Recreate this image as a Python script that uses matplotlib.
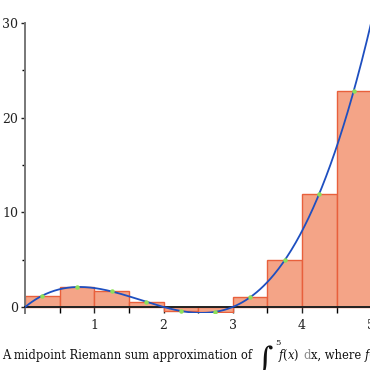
import matplotlib.pyplot as plt
import numpy as np

# midpoints of the 10 subintervals and the bar heights f(midpoint)
midpoints = [0.25, 0.75, 1.25, 1.75, 2.25, 2.75, 3.25, 3.75, 4.25, 4.75]
heights = [1.20, 2.11, 1.64, 0.55, -0.42, -0.52, 1.02, 4.92, 11.95, 22.86]
bar_width = 0.5
# f(x) = x (x - 2) (x - 3)
roots = [0, 2, 3]

x = np.linspace(0, 5, 400)
y = (x - roots[0]) * (x - roots[1]) * (x - roots[2])

plt.rcParams['font.family'] = 'DejaVu Serif'
plt.rcParams['mathtext.fontset'] = 'dejavuserif'
fig = plt.figure(figsize=(3.7, 3.7), dpi=100)
ax = fig.add_axes([0.068, 0.155, 0.935, 0.783])

ax.bar(midpoints, heights, width=bar_width, color='#f4a487', edgecolor='#e8603c',
       linewidth=1.0, zorder=2)
ax.plot(x, y, color='#1e4fc0', linewidth=1.3, zorder=3)
ax.scatter(midpoints, heights, s=5, color='#8ee05a', zorder=4)

ax.set_xlim(0, 5)
ax.set_ylim(-0.6, 30)
ax.spines['top'].set_visible(False)
ax.spines['right'].set_visible(False)
ax.spines['bottom'].set_position(('data', 0))
ax.spines['bottom'].set_color('#222222')
ax.spines['bottom'].set_linewidth(1.4)
ax.spines['left'].set_color('#777777')
ax.spines['left'].set_linewidth(1.4)

ax.set_xticks([1, 2, 3, 4, 5])
ax.set_xticks(np.arange(0.5, 5, 1.0), minor=True)
ax.set_yticks([0, 10, 20, 30])
ax.set_yticks([5, 15, 25], minor=True)
ax.tick_params(axis='x', direction='out', length=4, width=1, pad=5, labelsize=9,
               colors='#222222')
ax.tick_params(axis='x', which='minor', length=4, width=1)
ax.tick_params(axis='y', direction='out', length=3, width=1, pad=2, labelsize=9,
               colors='#222222')
ax.tick_params(axis='y', which='minor', length=2, width=1)

# caption, built in pieces so the integral sign can be large
renderer = fig.canvas.get_renderer()
W = 370
base_y = 11  # baseline in pixels from the bottom
cur = 2


def put(s, px, py, size=8.3, color='#111111'):
    t = fig.text(px / W, py / W, s, fontsize=size, color=color, va='baseline')
    return t.get_window_extent(renderer).x1


put('A midpoint Riemann sum approximation of', cur, base_y)
put(r'$\int$', 256, base_y - 10, size=16)
put('5', 275, 25, size=6)
put('0', 268, -6, size=6)
cur = put(r'$f(x)$', 278, base_y)
cur = put('d', cur + 4, base_y, color='#888888')
cur = put('x, where', cur, base_y)
put(r'$f(x) = x(x-2)(x-3)$.', cur + 3, base_y)

fig.savefig('out.png', dpi=100)
